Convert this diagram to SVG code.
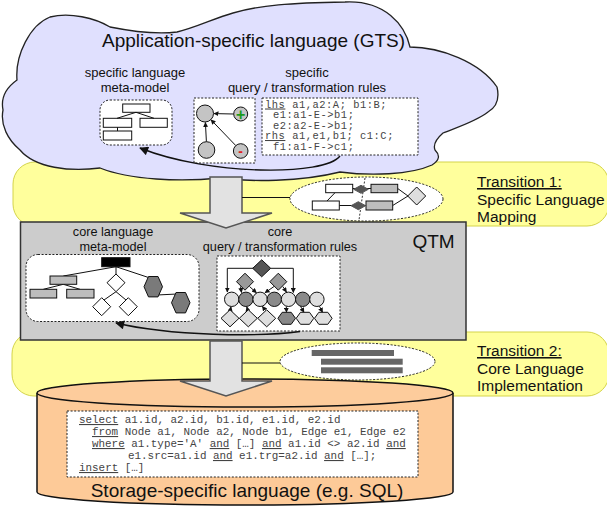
<svg xmlns="http://www.w3.org/2000/svg" width="607" height="508" viewBox="0 0 607 508">
  <style>
    .lbl { font-family: "Liberation Sans", Arial, sans-serif; fill: #111; }
    .code { font-family: "Liberation Mono", "Courier New", monospace; fill: #444; }
    .u { text-decoration: underline; }
    .dot { fill: #fff; stroke: #222; stroke-width: 1; stroke-dasharray: 2 1.6; }
    .band { fill: #ffff9c; stroke: #d4d44a; stroke-width: 1; }
    .edge { fill: none; stroke: #111; stroke-width: 1; }
    .box { stroke: #111; stroke-width: 1; }
    .bigArrow { fill: #e2e2e2; stroke: #555; stroke-width: 1.5; stroke-linejoin: miter; }
  </style>
  <defs>
    <marker id="ah" viewBox="0 0 10 10" refX="9" refY="5" markerWidth="5" markerHeight="5" orient="auto">
      <path d="M0,0 L10,5 L0,10 z" fill="#111"/>
    </marker>
    <marker id="ahBig" viewBox="0 0 10 10" refX="9" refY="5" markerUnits="userSpaceOnUse" markerWidth="12" markerHeight="9" orient="auto">
      <path d="M0,0 L10,5 L0,10 z" fill="#111"/>
    </marker>
  </defs>

  <!-- transition bands -->
  <g id="transition1">
    <rect class="band" x="13" y="162" width="596" height="64" rx="22"/>
    <text class="lbl" font-size="15.5" x="477" y="187"><tspan class="u">Transition 1:</tspan></text>
    <text class="lbl" font-size="15.5" x="477" y="205">Specific Language</text>
    <text class="lbl" font-size="15.5" x="477" y="222">Mapping</text>
  </g>
  <g id="transition2">
    <rect class="band" x="12" y="332" width="597" height="64" rx="22"/>
    <text class="lbl" font-size="15.5" x="477" y="356"><tspan class="u">Transition 2:</tspan></text>
    <text class="lbl" font-size="15.5" x="477" y="374">Core Language</text>
    <text class="lbl" font-size="15.5" x="477" y="391">Implementation</text>
  </g>

  <!-- application-specific language cloud -->
  <g id="gts">
    <path d="M 3,110 C 0,95 10,85 17,80 C 15,55 30,25 50,17 C 70,12 95,18 110,27 C 135,32 160,34 177,32 C 195,28 215,18 233,13 C 260,5 290,3 345,2 C 385,0 405,25 410,47 C 440,47 480,62 497,87 C 500,100 495,108 488,112 C 475,122 455,128 443,133 C 435,140 433,145 435,150 C 440,155 440,160 432,165 C 410,175 370,176 340,172 C 300,182 250,182 220,178 C 180,182 130,180 100,168 C 70,172 35,168 20,150 C 8,140 0,125 3,110 Z" fill="#e0e0fe" stroke="#222" stroke-width="1.3"/>
    <text class="lbl" font-size="19" x="253.5" y="47" text-anchor="middle">Application-specific language (GTS)</text>
    <text class="lbl" font-size="13" x="135" y="77" text-anchor="middle">specific language</text>
    <text class="lbl" font-size="13" x="135" y="92" text-anchor="middle">meta-model</text>
    <text class="lbl" font-size="13" x="307" y="77" text-anchor="middle">specific</text>
    <text class="lbl" font-size="13" x="307" y="92" text-anchor="middle">query / transformation rules</text>
  </g>

  <!-- specific meta-model -->
  <g id="specific-metamodel">
    <rect class="dot" x="100" y="100" width="72" height="45" rx="10"/>
    <g fill="#fff" class="box">
      <rect x="122.7" y="104" width="27.3" height="8.3"/>
      <rect x="103.3" y="118.3" width="28.4" height="9"/>
      <rect x="140" y="118.3" width="27.3" height="9"/>
      <rect x="103.3" y="131" width="28.4" height="9"/>
    </g>
    <path class="edge" d="M136,112.3 L117,118.3 M136,112.3 L154,118.3 M117.5,127.3 V131"/>
  </g>

  <!-- specific rule graph -->
  <g id="specific-rule-graph">
    <rect class="dot" x="194" y="98" width="61" height="65"/>
    <g fill="#c4c4c4" class="box">
      <circle cx="205" cy="113.5" r="8.5"/>
      <circle cx="240.7" cy="114" r="7"/>
      <circle cx="206.5" cy="150" r="8.3"/>
      <circle cx="240.7" cy="151" r="7.3"/>
    </g>
    <path class="edge" marker-end="url(#ah)" d="M233.5,114 L214,113.6"/>
    <path class="edge" marker-end="url(#ah)" d="M206.4,141.6 L205.4,122.5"/>
    <path class="edge" marker-end="url(#ah)" d="M235.8,145.6 L211,119.8"/>
    <text x="240.7" y="119.5" font-family="Liberation Sans, sans-serif" font-size="16" font-weight="bold" fill="#1a9a1a" text-anchor="middle">+</text>
    <text x="240.7" y="156" font-family="Liberation Sans, sans-serif" font-size="14" font-weight="bold" fill="#e02020" text-anchor="middle">-</text>
  </g>

  <!-- specific rule text -->
  <g id="specific-rule-code">
    <rect class="dot" x="262" y="98" width="156" height="57"/>
    <g class="code" font-size="10.4" letter-spacing="0.55">
      <text x="265" y="107.5"><tspan class="u">lhs</tspan> a1,a2:A; b1:B;</text>
      <text x="273" y="118">e1:a1-E-&gt;b1;</text>
      <text x="273" y="128.5">e2:a2-E-&gt;b1;</text>
      <text x="265" y="139"><tspan class="u">rhs</tspan> a1,e1,b1; c1:C;</text>
      <text x="273" y="149.5">f1:a1-F-&gt;c1;</text>
    </g>
  </g>

  <!-- QTM core layer -->
  <g id="qtm">
    <rect x="20.5" y="222" width="445.5" height="118" fill="#cccccc" stroke="#333" stroke-width="1.5"/>
    <text class="lbl" font-size="19" x="433.5" y="248" text-anchor="middle">QTM</text>
    <text class="lbl" font-size="12.7" x="113" y="236" text-anchor="middle">core language</text>
    <text class="lbl" font-size="12.7" x="113" y="251" text-anchor="middle">meta-model</text>
    <text class="lbl" font-size="12.7" x="280" y="236" text-anchor="middle">core</text>
    <text class="lbl" font-size="12.7" x="280" y="251" text-anchor="middle">query / transformation rules</text>
  </g>

  <!-- core meta-model -->
  <g id="core-metamodel">
    <rect class="dot" x="26" y="254.5" width="173" height="67" rx="12"/>
    <path class="edge" d="M116,266.7 L63.3,276 M116,266.7 V274 M116,266.7 L150,278 M63.3,284.3 L43.3,289.3 M63.3,284.3 L80,289.3 M116,291.7 L104,300 M116,291.7 L126,300 M157,295 L177,294"/>
    <rect x="101.7" y="257.7" width="28.3" height="9" fill="#000" class="box"/>
    <g fill="#bdbdbd" class="box">
      <rect x="50" y="276" width="26.7" height="8.3"/>
      <rect x="30" y="289.3" width="26.7" height="8.7"/>
      <rect x="66.7" y="289.3" width="27.3" height="8.7"/>
    </g>
    <g fill="#fff" class="box">
      <path d="M116,274 L125,282.7 L116,291.7 L107,282.7 Z"/>
      <path d="M101.7,297.7 L110.7,306.7 L101.7,315.7 L92.7,306.7 Z"/>
      <path d="M128.3,297.7 L137.3,306.7 L128.3,315.7 L119.3,306.7 Z"/>
    </g>
    <g fill="#7a7a7a" class="box">
      <path d="M148.5,276.5 L158,276.5 L162.5,286.7 L158,296.9 L148.5,296.9 L144,286.7 Z"/>
      <path d="M176,292.5 L185.5,292.5 L190,302.7 L185.5,312.9 L176,312.9 L171.5,302.7 Z"/>
    </g>
  </g>

  <!-- core rule graph -->
  <g id="core-rule-graph">
    <rect class="dot" x="217" y="256" width="123" height="75"/>
    <path class="edge" marker-end="url(#ah)" d="M253,268.3 H227.3 V292"/>
    <path class="edge" marker-end="url(#ah)" d="M270.5,268.3 H293.3 V292.5"/>
    <path class="edge" marker-end="url(#ah)" d="M249.5,286.5 L256.5,292.8"/>
    <path class="edge" marker-end="url(#ah)" d="M274,286.5 L265,292.8"/>
    <path class="edge" marker-end="url(#ah)" d="M282.8,286.5 L286.5,292.2"/>
    <path class="edge" marker-end="url(#ah)" d="M240.5,286.5 L241.5,292.5"/>
    <path fill="#555" class="box" d="M261.7,259.8 L270.7,268.3 L261.7,276.8 L252.7,268.3 Z"/>
    <g fill="#999" class="box">
      <path d="M245,273.2 L253.5,281.7 L245,290.2 L236.5,281.7 Z"/>
      <path d="M278.3,273.2 L286.8,281.7 L278.3,290.2 L269.8,281.7 Z"/>
    </g>
    <g class="box">
      <circle cx="231.7" cy="299.3" r="7.2" fill="#dedede"/>
      <circle cx="245.9" cy="299.3" r="7.2" fill="#8a8a8a"/>
      <circle cx="260.1" cy="299.3" r="7.2" fill="#dedede"/>
      <circle cx="274.3" cy="299.3" r="7.2" fill="#8a8a8a"/>
      <circle cx="288.5" cy="299.3" r="7.2" fill="#dedede"/>
      <circle cx="302.7" cy="299.3" r="7.2" fill="#8a8a8a"/>
      <circle cx="316.9" cy="299.3" r="7.2" fill="#dedede"/>
    </g>
    <path class="edge" marker-end="url(#ah)" d="M230.3,310.5 L231,306.8"/>
    <path class="edge" marker-end="url(#ah)" d="M247.8,310.5 L246.8,306.8"/>
    <path class="edge" marker-end="url(#ah)" d="M265.5,310.5 L262.3,306.3"/>
    <path class="edge" marker-end="url(#ah)" d="M286.3,306.5 L286.5,312.3"/>
    <path class="edge" marker-end="url(#ah)" d="M300.5,306.3 L304,312.3"/>
    <path class="edge" marker-end="url(#ah)" d="M319.5,306.3 L322.5,312.3"/>
    <g fill="#dedede" class="box">
      <path d="M230,309.8 L239,318.3 L230,326.8 L221,318.3 Z"/>
      <path d="M248.3,309.8 L257.3,318.3 L248.3,326.8 L239.3,318.3 Z"/>
      <path d="M266.7,309.8 L275.7,318.3 L266.7,326.8 L257.7,318.3 Z"/>
      <path d="M300.5,312.3 L309.5,312.3 L313.8,318.3 L309.5,324.3 L300.5,324.3 L296.2,318.3 Z"/>
      <path d="M318.8,312.3 L327.8,312.3 L332.1,318.3 L327.8,324.3 L318.8,324.3 L314.5,318.3 Z"/>
    </g>
    <path fill="#888" class="box" d="M282.2,312.3 L291.2,312.3 L295.5,318.3 L291.2,324.3 L282.2,324.3 L277.9,318.3 Z"/>
  </g>

  <!-- transition 1 mapping sketch -->
  <g id="mapping">
    <ellipse cx="366.5" cy="199" rx="76.5" ry="22" class="dot"/>
    <path d="M365,178 L359,220" fill="none" stroke="#333" stroke-width="1" stroke-dasharray="2 1.6"/>
    <path class="edge" d="M352.7,188.5 H371 M339.3,205.5 H366 M335,192.7 L327,201 M397.7,188.5 L408,196 M392.7,205.5 L408,196"/>
    <g fill="#fff" class="box">
      <rect x="325.7" y="184.3" width="27" height="8.4"/>
      <rect x="312.3" y="201" width="27" height="9"/>
    </g>
    <g fill="#bdbdbd" class="box">
      <rect x="371" y="184.3" width="26.7" height="8.4"/>
      <rect x="366" y="201" width="26.7" height="9"/>
    </g>
    <g fill="#555" stroke="#555">
      <path d="M353.7,189.3 L361,185.3 L368.3,189.3 L361,193.3 Z"/>
      <path d="M351,205.7 L358.3,201.7 L365.6,205.7 L358.3,209.7 Z"/>
    </g>
    <path fill="#dedede" class="box" d="M416.7,187 L425.7,196 L416.7,205 L407.7,196 Z"/>
  </g>

  <!-- transition 2 implementation sketch -->
  <g id="implementation">
    <ellipse cx="357.5" cy="361.5" rx="77.5" ry="18.5" class="dot"/>
    <g fill="#666">
      <rect x="311.7" y="350" width="82.3" height="6"/>
      <rect x="321" y="358.7" width="81.7" height="6"/>
      <rect x="321" y="367.3" width="81.7" height="6"/>
    </g>
  </g>

  <!-- storage-specific language -->
  <g id="storage">
    <path d="M37,393 V492 A208,13 0 0 0 453,492 V393" fill="#fdca98" stroke="#111" stroke-width="1.5"/>
    <ellipse cx="245" cy="393" rx="208" ry="14" fill="#fdcc9c" stroke="#111" stroke-width="1.5"/>
    <rect class="dot" x="67" y="411" width="351" height="66"/>
    <g class="code" font-size="10.9">
      <text x="79" y="423"><tspan class="u">select</tspan> a1.id, a2.id, b1.id, e1.id, e2.id</text>
      <text x="92" y="435"><tspan class="u">from</tspan> Node a1, Node a2, Node b1, Edge e1, Edge e2</text>
      <text x="92" y="447"><tspan class="u">where</tspan> a1.type='A' <tspan class="u">and</tspan> […] <tspan class="u">and</tspan> a1.id &lt;&gt; a2.id <tspan class="u">and</tspan></text>
      <text x="128" y="459">e1.src=a1.id <tspan class="u">and</tspan> e1.trg=a2.id <tspan class="u">and</tspan> […];</text>
      <text x="79" y="471"><tspan class="u">insert</tspan> […]</text>
    </g>
    <text class="lbl" font-size="19" x="247" y="497" text-anchor="middle">Storage-specific language (e.g. SQL)</text>
  </g>

  <!-- connectors -->
  <g id="connectors">
    <path class="bigArrow" d="M210,177 H242 V213 H272 L226,228 L180,213 H210 Z"/>
    <path class="edge" d="M242,197.5 H290"/>
    <path class="bigArrow" d="M210,341 H242 V381 H272 L226,396 L180,381 H210 Z"/>
    <path class="edge" d="M242,363 H280"/>
    <path fill="none" stroke="#111" stroke-width="1.4" marker-end="url(#ahBig)" d="M340,156 C 325,176 210,176 140,148"/>
    <path fill="none" stroke="#111" stroke-width="1.4" marker-end="url(#ahBig)" d="M300,331.5 C 260,337 170,336 116,323"/>
  </g>
</svg>
